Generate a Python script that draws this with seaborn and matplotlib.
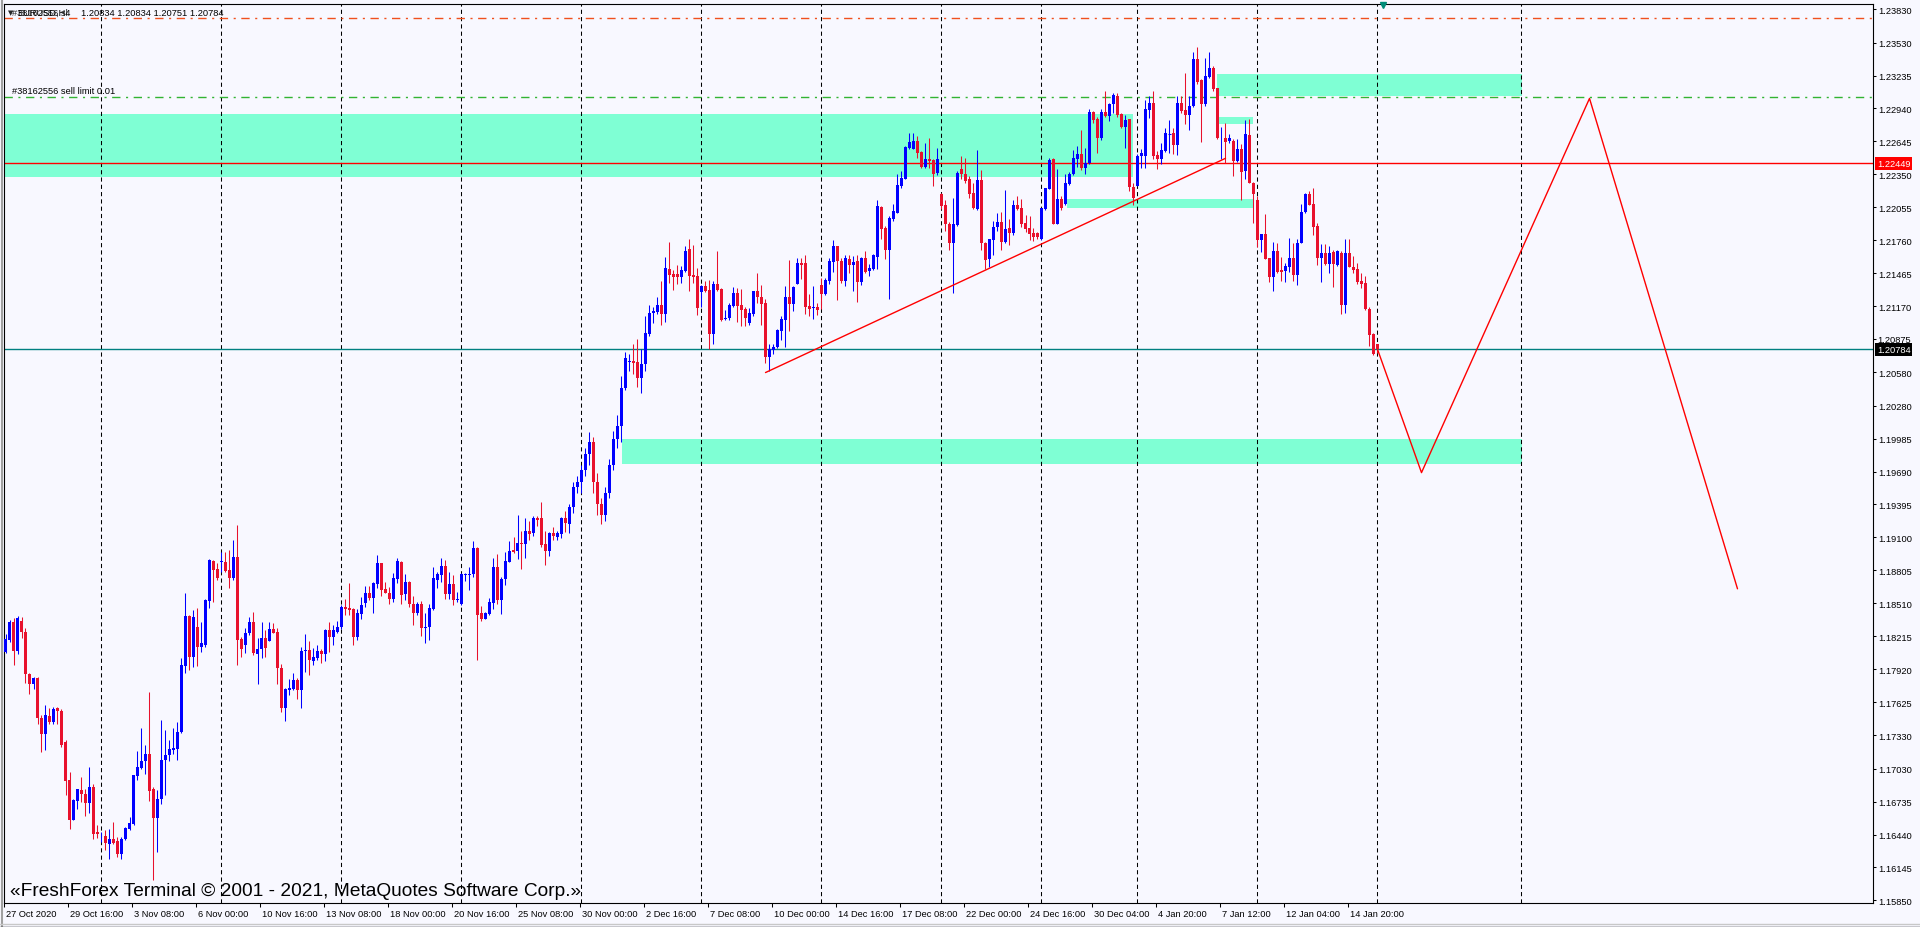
import numpy as np
import pandas as pd
import matplotlib
matplotlib.use("Agg")
import matplotlib.pyplot as plt
import seaborn as sns
from matplotlib.patches import Rectangle
from matplotlib.transforms import blended_transform_factory, ScaledTranslation
from matplotlib.lines import Line2D

# ---------------- data (EURUSD H4, prices in points of 1e-5) ----------------
open_pts = [
118076,118181,118339,118082,118354,118255,117876,117792,117843,117485,
117338,117503,117443,117574,117550,117264,116929,116574,116738,116840,
116807,116726,116869,116463,116416,116425,116359,116404,116380,116269,
116398,116493,116538,116965,117040,117099,117165,116846,116589,116756,
117105,117150,117195,117210,117359,117948,118396,118025,118300,118115,
118136,118530,118889,118814,118880,118883,118808,118733,118927,118190,
118136,118240,118339,118055,118097,118202,118172,118276,118249,117933,
117577,117732,117747,117822,117732,118087,118096,117992,118016,118084,
118060,118267,118204,118255,118296,118479,118470,118458,118204,118413,
118517,118598,118559,118679,118867,118634,118598,118547,118732,118882,
118592,118697,118508,118419,118508,118290,118296,118458,118717,118762,
118843,118592,118679,118538,118508,118765,118762,118768,119002,118419,
118374,118413,118517,118837,118538,118726,118882,118987,118978,119046,
119040,119160,119136,119270,119270,119037,118978,119136,119100,119127,
119270,119219,119369,119550,119600,119700,119850,119950,119600,119400,
119300,119500,119750,119980,120100,120436,120668,120680,120674,120525,
120650,120919,121105,121114,121185,121099,121502,121457,121457,121433,
121487,121681,121448,121436,121293,121353,121315,120919,121367,121321,
121054,121060,121173,121287,121182,121143,121018,121099,121306,121254,
121197,120716,120779,120806,120949,121045,121254,121194,121373,121556,
121556,121173,121153,121165,121362,121278,121397,121562,121711,121574,
121394,121589,121538,121574,121385,121604,121484,121499,121610,122061,
121866,121672,121947,122007,122246,122311,122583,122580,122646,122553,
122419,122485,122476,122359,122171,122073,121908,121732,121896,122395,
122356,122305,122180,122037,122296,121738,121595,121762,121881,121926,
121744,121866,121821,122076,122046,121911,121872,121821,121827,121774,
122037,122222,122485,121908,122126,122081,122261,122350,122485,122529,
122404,122449,122909,122849,122673,122909,122873,122978,123052,122888,
122774,122843,122237,122246,122515,122515,122927,122993,122521,122485,
122559,122712,122718,122610,122987,122924,122879,122963,123381,123196,
122978,123225,123300,123121,122673,122679,122649,122649,122470,122574,
122380,122700,122275,122117,121762,121812,121598,121434,121663,121493,
121484,121520,121604,121448,121738,122013,122171,122081,121887,121598,
121648,121544,121654,121538,121648,121185,121648,121523,121499,121394,
121379,121145,120925,120834]

high_pts = [
118232,118360,118375,118396,118390,118285,117882,117852,117852,117509,
117604,117574,117583,117583,117568,117285,117001,116762,116852,116956,
116852,117046,116890,116523,116463,116478,116493,116553,116419,116419,
116508,116597,116977,117186,117395,117240,117712,116866,116837,117464,
117374,117285,117395,117443,118022,118599,118405,118450,118465,118345,
118548,118907,118898,118868,118966,118972,118987,119077,119211,118211,
118285,118390,118435,118202,118345,118270,118345,118330,118285,117966,
117748,117828,117890,117837,118120,118231,118174,118111,118141,118099,
118279,118344,118320,118353,118494,118553,118688,118464,118458,118568,
118667,118667,118703,118942,118867,118697,118658,118777,118912,118891,
118768,118709,118577,118523,118529,118419,118508,118831,118792,118912,
118897,118786,118762,118613,118777,118777,118831,119068,119011,118485,
118428,118559,118912,118948,118747,118966,119068,119106,119300,119157,
119270,119249,119294,119288,119414,119157,119151,119190,119157,119285,
119336,119399,119600,119650,119750,119900,120040,120000,119680,119450,
119550,119800,120050,120200,120546,120764,120746,120836,120875,120785,
121084,121179,121159,121254,121397,121607,121741,121493,121538,121532,
121711,121771,121717,121511,121362,121397,121406,121397,121666,121330,
121135,121203,121344,121330,121321,121164,121153,121306,121466,121362,
121233,120830,120836,120964,121084,121353,121586,121353,121601,121601,
121631,121278,121351,121203,121421,121421,121601,121762,121711,121604,
121625,121625,121619,121625,121613,121664,121544,121633,122117,122067,
121887,121977,122081,122350,122380,122604,122724,122724,122694,122559,
122628,122679,122485,122589,122180,122120,121923,122138,122380,122515,
122494,122335,122270,122568,122386,121744,121774,121932,122007,122013,
122210,121947,122117,122153,122126,121983,121977,121872,121833,122052,
122231,122500,122494,122395,122153,122350,122371,122568,122604,122748,
122589,122939,122918,122867,122933,123097,122993,123082,123082,122897,
122879,122849,122275,122535,122580,123014,123052,123097,122559,122628,
122763,122834,122768,123052,123052,123255,123052,123446,123494,123208,
123396,123446,123321,123127,122777,122813,122709,122670,122670,122619,
122837,122843,122281,122153,121818,121998,121604,121744,121738,121613,
121553,121783,121738,121768,122087,122180,122201,122231,121917,121723,
121723,121708,121672,121672,121663,121774,121768,121619,121553,121469,
121439,121160,120931,120834]

low_pts = [
118061,118166,117957,118052,118196,117801,117697,117742,117434,117180,
117201,117434,117434,117434,117225,116792,116493,116568,116672,116732,
116604,116636,116398,116410,116374,116299,116218,116359,116239,116224,
116389,116478,116529,116926,117025,116986,116738,116030,116284,116717,
116798,117096,117165,117105,117350,117882,117912,117942,117951,118076,
118121,118465,118524,118718,118793,118793,118644,118718,117957,118031,
118061,118226,118046,117792,118016,118031,118172,118240,117792,117539,
117455,117687,117732,117651,117577,117896,117866,117956,118001,117980,
117998,118075,118135,118240,118279,118404,118404,118141,118186,118368,
118479,118538,118419,118643,118577,118598,118500,118523,118688,118508,
118538,118479,118314,118404,118219,118159,118180,118449,118643,118697,
118553,118547,118494,118523,118494,118709,118628,118747,118001,118350,
118368,118404,118458,118500,118410,118673,118876,118957,118906,118816,
118912,119076,119115,119202,119016,118852,118933,119076,119076,119091,
119145,119136,119320,119500,119500,119650,119750,119500,119300,119220,
119250,119450,119700,119900,119950,120418,120591,120561,120448,120397,
120591,120904,121024,121099,121003,121033,121382,121315,121367,121382,
121472,121306,121382,121093,121165,121293,120785,120836,121306,121039,
121045,121045,121160,121033,120994,120994,121000,121084,121197,121003,
120665,120591,120740,120800,120866,120806,120949,121123,121367,121412,
121099,121084,121054,121093,121143,121272,121373,121472,121227,121379,
121350,121469,121305,121206,121364,121469,121439,121493,121505,121768,
121595,121236,121932,122001,122231,122305,122574,122574,122499,122410,
122404,122410,122246,122341,122037,121842,121672,121284,121887,122305,
122275,122138,122037,122031,121672,121505,121520,121625,121842,121672,
121732,121714,121804,122028,121878,121833,121762,121753,121774,121759,
122031,122216,121902,121902,122031,122076,122255,122344,122419,122389,
122350,122440,122813,122544,122658,122867,122828,122897,122867,122768,
122589,122201,122076,122246,122410,122410,122852,122485,122401,122440,
122553,122538,122529,122521,122903,122798,122748,122957,123157,122640,
122963,123216,123097,122664,122485,122449,122634,122335,122461,122120,
122305,122270,121917,121702,121654,121589,121385,121305,121469,121394,
121385,121475,121394,121364,121732,122007,122073,121804,121535,121385,
121535,121469,121344,121529,121101,121110,121523,121469,121373,121334,
121139,120812,120737,120751]

close_pts = [
118190,118339,118082,118375,118255,117876,117792,117843,117479,117338,
117509,117443,117568,117545,117246,116917,116574,116747,116846,116807,
116726,116869,116448,116442,116422,116368,116404,116368,116269,116404,
116502,116547,116971,117046,117099,117165,116828,116589,116762,117111,
117156,117204,117219,117359,117957,118396,118025,118390,118115,118151,
118539,118898,118808,118739,118886,118799,118733,118927,118181,118100,
118246,118339,118061,118097,118202,118106,118279,118246,117927,117577,
117742,117756,117822,117732,118087,118093,118001,118025,118084,118060,
118267,118204,118267,118302,118479,118458,118449,118204,118419,118494,
118598,118559,118688,118867,118628,118598,118547,118741,118888,118583,
118697,118502,118419,118508,118290,118302,118464,118741,118771,118843,
118592,118679,118538,118553,118768,118771,118774,119002,118404,118374,
118419,118523,118837,118538,118732,118888,118981,118972,119046,119037,
119160,119127,119270,119252,119031,118978,119136,119112,119136,119270,
119225,119369,119550,119600,119700,119850,119950,119600,119400,119300,
119500,119750,119980,120100,120442,120710,120677,120665,120525,120656,
120928,121105,121129,121185,121099,121511,121451,121427,121427,121493,
121666,121442,121427,121153,121347,121306,120919,121367,121315,121045,
121063,121182,121287,121173,121137,121060,121108,121306,121248,121194,
120716,120785,120809,120955,121057,121254,121188,121344,121556,121538,
121165,121143,121165,121135,121278,121406,121577,121711,121574,121394,
121598,121535,121568,121385,121604,121475,121514,121625,122067,121863,
121672,121962,122022,122252,122320,122598,122643,122649,122544,122416,
122485,122470,122356,122485,122067,121908,121732,121902,122359,122350,
122290,122171,122052,122296,121738,121583,121768,121881,121926,121744,
121857,121821,122076,122043,121902,121863,121812,121792,121792,122046,
122225,122479,121908,122126,122052,122270,122356,122494,122529,122404,
122455,122909,122837,122673,122909,122873,122978,123058,122879,122777,
122837,122237,122138,122515,122544,122933,122987,122515,122485,122565,
122718,122712,122610,122987,122918,122882,122963,123381,123178,122978,
123231,123300,123112,122673,122679,122640,122679,122470,122574,122374,
122709,122275,122171,121762,121812,121595,121434,121663,121475,121478,
121529,121604,121448,121738,122016,122171,122076,121881,121598,121642,
121544,121648,121544,121663,121185,121648,121523,121493,121385,121373,
121145,120916,120743,120784]

x_tick_labels = ["27 Oct 2020", "29 Oct 16:00", "3 Nov 08:00", "6 Nov 00:00", "10 Nov 16:00",
                 "13 Nov 08:00", "18 Nov 00:00", "20 Nov 16:00", "25 Nov 08:00", "30 Nov 00:00",
                 "2 Dec 16:00", "7 Dec 08:00", "10 Dec 00:00", "14 Dec 16:00", "17 Dec 08:00",
                 "22 Dec 00:00", "24 Dec 16:00", "30 Dec 04:00", "4 Jan 20:00", "7 Jan 12:00",
                 "12 Jan 04:00", "14 Jan 20:00"]
x_tick_bars = [0, 16, 32, 48, 64, 80, 96, 112, 128, 144, 160, 176, 192, 208, 224, 240,
               256, 272, 288, 304, 320, 336]
y_tick_values = [1.23830, 1.23530, 1.23235, 1.22940, 1.22645, 1.22350, 1.22055, 1.21760,
                 1.21465, 1.21170, 1.20875, 1.20580, 1.20280, 1.19985, 1.19690, 1.19395,
                 1.19100, 1.18805, 1.18510, 1.18215, 1.17920, 1.17625, 1.17330, 1.17030,
                 1.16735, 1.16440, 1.16145, 1.15850]
separator_bars = [24, 54, 84, 114, 144, 174, 204, 234, 259, 283, 313, 343, 379]

# supply / demand zones (bar from, bar to, price low, price high)
zone_bar_from = [-5, 303, 303.25, 265.5, 154.25]
zone_bar_to = [281.8, 379.2, 311.8, 311.8, 379.2]
zone_low = [1.22329, 1.23052, 1.22798, 1.22046, 1.19760]
zone_high = [1.22888, 1.23246, 1.22867, 1.22132, 1.19980]

level_resistance = 1.22449
level_bid = 1.20784
level_sell_limit = 1.23046
level_stop = 1.23747

trend_bars = [190, 305]
trend_prices = [1.20576, 1.22494]
forecast_bars = [343, 354, 396, 433]
forecast_prices = [1.20784, 1.19680, 1.23030, 1.18640]

title_symbol = "EURUSD,H4"
title_ohlc = "1.20834 1.20834 1.20751 1.20784"
order_label = "#38162556 sell limit 0.01"
watermark = "\u00abFreshForex Terminal \u00a9 2001 - 2021, MetaQuotes Software Corp.\u00bb"

# ---------------- styling ----------------
W, H = 1920, 928
BG = "#F8F8FF"
BULL = "#0000FF"
BEAR = "#E8112D"
ZONE = "#7FFFD4"

sns.set_theme(style="white", rc={"axes.facecolor": BG, "figure.facecolor": BG,
                                 "axes.edgecolor": "black", "axes.linewidth": 0.8})
plt.rcParams["font.family"] = ["Liberation Sans", "DejaVu Sans"]

fig = plt.figure(figsize=(W / 100, H / 100), dpi=100)
ax = fig.add_axes([4 / W, 24 / H, 1869 / W, 899.5 / H])
ax.set_facecolor(BG)

df = pd.DataFrame({"bar": np.arange(len(close_pts)),
                   "open": np.array(open_pts) / 1e5,
                   "high": np.array(high_pts) / 1e5,
                   "low": np.array(low_pts) / 1e5,
                   "close": np.array(close_pts) / 1e5})
df["high"] = df[["high", "open", "close"]].max(axis=1)
df["low"] = df[["low", "open", "close"]].min(axis=1)
bull = df["close"] >= df["open"]
colors = np.where(bull, BULL, BEAR)

# zones
for b0, b1, lo, hi in zip(zone_bar_from, zone_bar_to, zone_low, zone_high):
    ax.add_patch(Rectangle((b0, lo), b1 - b0, hi - lo, facecolor=ZONE, edgecolor="none", zorder=0.5))

# period separators
for b in separator_bars:
    ax.axvline(b, color="black", lw=0.75, ls=(0, (4, 3)), zorder=1)

# horizontal levels
ax.axhline(level_stop, color="#F0501E", lw=1.0, ls=(0, (6, 4, 1.5, 4)), zorder=2)
ax.axhline(level_sell_limit, color="#32B432", lw=1.0, ls=(0, (6, 4, 1.5, 4)), zorder=2)
ax.axhline(level_resistance, color="#FF0000", lw=1.0, zorder=2)
ax.axhline(level_bid, color="#008080", lw=1.0, zorder=2)

# candles
ax.vlines(df["bar"], df["low"], df["high"], colors=colors, lw=0.75, zorder=3)
ax.bar(df["bar"], df["close"] - df["open"], bottom=df["open"], width=0.75,
       color=colors, linewidth=0, zorder=3)
doji = (df["close"] - df["open"]).abs() < 0.00004
ax.hlines(df.loc[doji, "close"], df.loc[doji, "bar"] - 0.4, df.loc[doji, "bar"] + 0.4,
          colors=colors[doji.values], lw=0.75, zorder=3)

# trend line and forecast path
sns.lineplot(x=trend_bars, y=trend_prices, ax=ax, color="#FF0000", lw=1.0, zorder=4,
             legend=False, estimator=None, sort=False)
sns.lineplot(x=forecast_bars, y=forecast_prices, ax=ax, color="#FF0000", lw=1.0, zorder=4,
             legend=False, estimator=None, sort=False)

# axes limits (4 px per bar)
ax.set_xlim(-0.375, 466.875)
ax.set_ylim(1.15827, 1.23880)

# right price axis
ax.yaxis.tick_right()
ytl = ["" if abs(v - 1.20875) < 1e-9 else f"{v:.5f}" for v in y_tick_values]
ax.set_yticks(y_tick_values)
ax.set_yticklabels(ytl)
ax.tick_params(axis="y", direction="out", length=2.5, width=0.75, pad=1.5,
               labelsize=6.7, colors="black", right=True, left=False)
ytrans = blended_transform_factory(ax.transAxes, ax.transData)
ax.annotate("1.20875", xy=(1, 1.20875), xycoords=ytrans, xytext=(4.5, 0),
            textcoords="offset pixels", va="center", ha="left", fontsize=6.7, color="black")

# bottom time axis
ax.set_xticks([b - 0.3 for b in x_tick_bars])
ax.set_xticklabels(x_tick_labels)
ax.tick_params(axis="x", direction="out", length=3, width=0.75, pad=1.5,
               labelsize=6.7, colors="black", bottom=True)
shift = ScaledTranslation(2 / 100, 0, fig.dpi_scale_trans)
for lbl in ax.get_xticklabels():
    lbl.set_ha("left")
    lbl.set_transform(lbl.get_transform() + shift)

for sp in ax.spines.values():
    sp.set_visible(True)
    sp.set_color("black")
    sp.set_linewidth(0.8)

# price boxes on the axis
ax.annotate(f"{level_resistance:.5f}", xy=(1, level_resistance), xycoords=ytrans,
            xytext=(4, 0), textcoords="offset pixels", va="center", ha="left",
            fontsize=6.7, color="white",
            bbox=dict(boxstyle="square,pad=0.2", fc="#FF0000", ec="none"))
ax.annotate(f"{level_bid:.5f}", xy=(1, level_bid), xycoords=ytrans,
            xytext=(4, 0), textcoords="offset pixels", va="center", ha="left",
            fontsize=6.7, color="white",
            bbox=dict(boxstyle="square,pad=0.2", fc="black", ec="none"))

# shift marker at the top
ax.plot([344.5], [1.23868], marker="v", color="#008C78", ms=5, clip_on=False, zorder=5)

# texts
def px(x, y):
    return x / W, 1 - y / H

fig.text(*px(8, 13), "\u25BC", fontsize=5, va="center", ha="left", family="DejaVu Sans")
fig.text(*px(12, 13), "#38162556 sl", fontsize=6.7, va="center", ha="left", color="#222222")
fig.text(*px(17, 13), title_symbol, fontsize=6.7, va="center", ha="left", color="black")
fig.text(*px(81, 13), title_ohlc, fontsize=6.7, va="center", ha="left", color="black")
fig.text(*px(12, 91), order_label, fontsize=6.7, va="center", ha="left", color="black")
fig.text(*px(10, 896), watermark, fontsize=13.8, va="baseline", ha="left", color="black")

# window borders
fig.add_artist(Line2D([1.5 / W, 1.5 / W], [0, 1], color="#A0A0A0", lw=1.5))
fig.add_artist(Line2D([0, 1], [1 - 925 / H, 1 - 925 / H], color="#C8C8C8", lw=1))
fig.add_artist(Line2D([0, 1], [0.5 / H, 0.5 / H], color="black", lw=1))

fig.savefig("out.png", dpi=100, facecolor=BG)
